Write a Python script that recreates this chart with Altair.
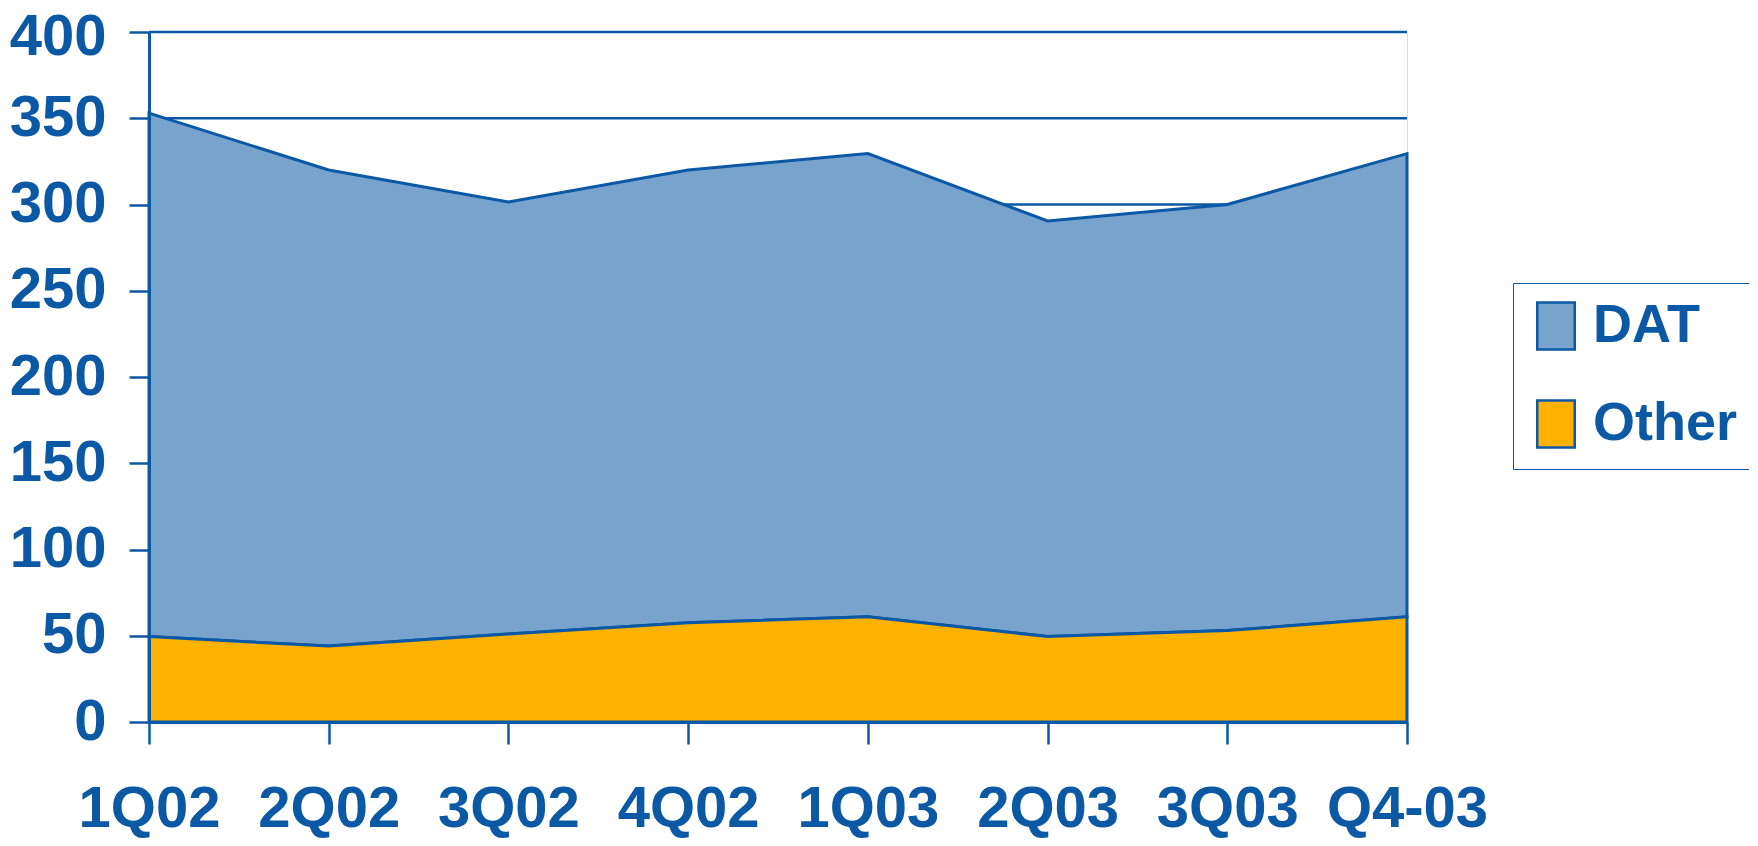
import altair as alt
import pandas as pd

quarters = ["1Q02", "2Q02", "3Q02", "4Q02", "1Q03", "2Q03", "3Q03", "Q4-03"]
total = [353, 320, 301.5, 320, 329.5, 290.5, 300, 329.5]
other = [49.5, 44, 51, 57.5, 61, 49.5, 53, 61]
grid_values = [0, 50, 100, 150, 200, 250, 300, 350, 400]

BLUE = "#0B58A5"
FONT = "Arial, Liberation Sans, sans-serif"

df = pd.DataFrame({"q": quarters, "total": total, "other": other, "zero": [0] * len(quarters)})
df["s_dat"] = "DAT"
df["s_other"] = "Other"
grid_df = pd.DataFrame({"v": grid_values})

xenc = alt.X("q:O", sort=quarters, scale=alt.Scale(type="point", padding=0),
             axis=alt.Axis(title=None, labelAngle=0, labelFont=FONT, labelFontSize=58,
                           labelFontWeight="bold", labelColor=BLUE, labelPadding=36,
                           tickSize=22, tickWidth=2.5, tickColor=BLUE, domainColor=BLUE,
                           domainWidth=3, zindex=1, grid=False))
yscale = alt.Scale(domain=[0, 400], nice=False, zero=True)
yaxis = alt.Axis(title=None, values=grid_values, labelFont=FONT, labelFontSize=58,
                 labelFontWeight="bold", labelColor=BLUE, labelPadding=23,
                 labelOffset={"condition": {"test": "datum.value == 400", "value": 5}, "value": 0},
                 tickSize=20, tickWidth=2.5, tickColor=BLUE, domainColor=BLUE,
                 domainWidth=3, zindex=1, grid=False)
color_scale = alt.Scale(domain=["DAT", "Other"], range=["#78A3CC", "#FDB100"])

grid = alt.Chart(grid_df).mark_rule(color=BLUE, strokeWidth=2.5).encode(
    y=alt.Y("v:Q", scale=yscale, axis=yaxis)
)

dat_area = alt.Chart(df).mark_area(stroke=BLUE, strokeWidth=3, opacity=1, strokeJoin="miter").encode(
    x=xenc,
    y=alt.Y("total:Q", scale=yscale, axis=yaxis),
    y2="other:Q",
    color=alt.Color("s_dat:N", scale=color_scale,
                    legend=alt.Legend(title=None, orient="none", legendX=1364, legendY=251,
                                      labelFont=FONT, labelFontSize=54, labelFontWeight="bold",
                                      labelColor=BLUE, strokeColor=BLUE, padding=16,
                                      symbolType="M-0.8,-1H0.8V1H-0.8Z", symbolSize=2200,
                                      symbolStrokeColor=BLUE, symbolStrokeWidth=2.5,
                                      symbolOpacity=1, labelOffset=10, rowPadding=40,
                                      labelLimit=400)),
)

other_area = alt.Chart(df).mark_area(stroke=BLUE, strokeWidth=3, opacity=1, strokeJoin="miter").encode(
    x=xenc,
    y=alt.Y("other:Q", scale=yscale, axis=yaxis),
    y2="zero:Q",
    color=alt.Color("s_other:N", scale=color_scale),
)

chart = alt.layer(grid, dat_area, other_area).properties(
    width=1258, height=690,
    autosize=alt.AutoSizeParams(type="none"),
    padding={"left": 141, "top": 24, "right": 342, "bottom": 116},
).configure_view(stroke=BLUE, strokeWidth=3, strokeOpacity=1).configure(background="white")

chart.save("out.html", embed_options={"renderer": "svg", "actions": False})
